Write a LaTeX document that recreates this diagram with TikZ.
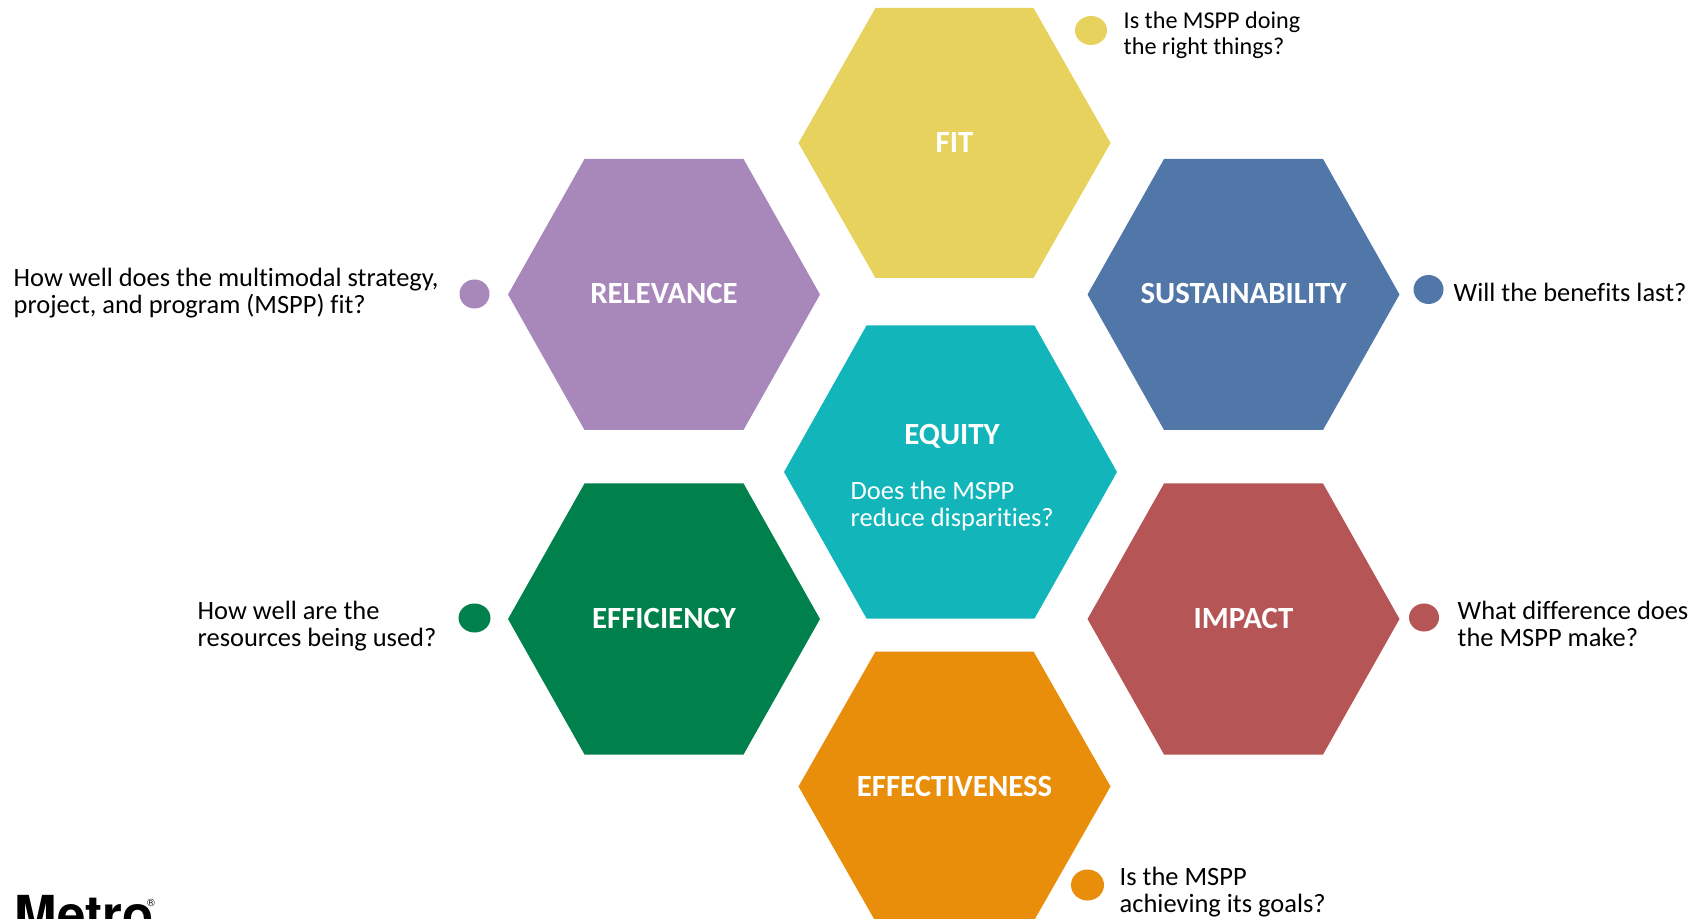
\documentclass[tikz,border=0pt]{standalone}
\usepackage{fontspec}
\setmainfont[Ligatures=NoCommon]{Carlito}
\newfontfamily\logofont{TeX Gyre Heros}
\definecolor{cfit}{HTML}{E6D25C}
\definecolor{crel}{HTML}{A887BB}
\definecolor{csus}{HTML}{5177A9}
\definecolor{cequ}{HTML}{12B6BA}
\definecolor{ceff}{HTML}{00804A}
\definecolor{cimp}{HTML}{B55556}
\definecolor{cetv}{HTML}{E88E0B}
\tikzset{
  hexlabel/.style={text=white,font=\fontsize{8.77pt}{10pt}\selectfont\bfseries,inner sep=0pt},
  qtext/.style={text=black,align=left,anchor=west,inner sep=0pt,font=\fontsize{7.52pt}{7.7pt}\selectfont},
  qsmall/.style={text=black,align=left,anchor=west,inner sep=0pt,font=\fontsize{6.87pt}{7.55pt}\selectfont},
  subtext/.style={text=white,align=left,anchor=west,inner sep=0pt,font=\fontsize{7.52pt}{7.7pt}\selectfont},
  logotext/.style={text=black,anchor=base west,inner sep=0pt,font=\logofont\fontsize{14.5pt}{15pt}\selectfont\bfseries},
}
% #1 centre x, #2 centre y, #3 half width, #4 half top width, #5 half height, #6 colour
\newcommand{\hexshape}[6]{\fill[#6] (#1-#3,#2) -- (#1-#4,#2-#5) -- (#1+#4,#2-#5) -- (#1+#3,#2) -- (#1+#4,#2+#5) -- (#1-#4,#2+#5) -- cycle;}
\newcommand{\dotshape}[5]{\fill[#5] (#1,#2) ellipse [x radius=#3,y radius=#4];}
\begin{document}
\begin{tikzpicture}[x=0.01cm,y=-0.01cm]
\useasboundingbox (0,0) rectangle (1695,919);
\clip (0,0) rectangle (1695,919);
\hexshape{954.5}{143}{156}{79}{135}{cfit}
\hexshape{664}{294.5}{156}{79.5}{135.5}{crel}
\hexshape{1243.5}{294.5}{156}{79.5}{135.5}{csus}
\hexshape{950.5}{472}{166.5}{84}{146.5}{cequ}
\hexshape{664}{619}{156}{79.5}{135.5}{ceff}
\hexshape{1243.5}{619}{156}{79.5}{135.5}{cimp}
\hexshape{954.5}{786.5}{156}{79}{135}{cetv}
\dotshape{1091}{30.5}{16}{14.5}{cfit}
\dotshape{474.5}{294}{15}{14.5}{crel}
\dotshape{1428.5}{289.5}{15}{14.5}{csus}
\dotshape{474.5}{618}{16}{14.5}{ceff}
\dotshape{1424}{617.5}{15}{14}{cimp}
\dotshape{1087.5}{885}{16.5}{15.5}{cetv}
\node[hexlabel] (fit) at (954.5,143) {FIT};
\node[hexlabel] (rel) at (664,293) {RELEVANCE};
\node[hexlabel] (sus) at (1243.5,294) {SUSTAINABILITY};
\node[hexlabel] (equ) at (952,436) {EQUITY};
\node[subtext] (equq) at (850,506) {Does the MSPP\\reduce disparities?};
\node[hexlabel] (eff) at (664,618) {EFFICIENCY};
\node[hexlabel] (imp) at (1243.5,618) {IMPACT};
\node[hexlabel] (etv) at (954.5,786) {EFFECTIVENESS};
\node[qsmall] (qfit) at (1123,35) {Is the MSPP doing\\the right things?};
\node[qtext] (qrel) at (13,293.5) {How well does the multimodal strategy,\\project, and program (MSPP) fit?};
\node[qtext] (qsus) at (1453,292) {Will the benefits last?};
\node[qtext] (qeff) at (197,626) {How well are the\\resources being used?};
\node[qtext] (qimp) at (1457,624) {What difference does\\the MSPP make?};
\node[qtext] (qetv) at (1119,892) {Is the MSPP\\achieving its goals?};
\node[logotext] (logo) at (14,932) {Metro};
\node[text=black,inner sep=0pt,font=\logofont\fontsize{3pt}{3pt}\selectfont] (reg) at (151,903) {®};
\end{tikzpicture}
\end{document}
